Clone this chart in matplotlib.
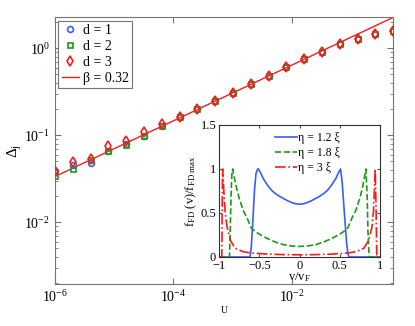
import numpy as np
import matplotlib
matplotlib.use("Agg")
import matplotlib.pyplot as plt

plt.rcParams['font.family'] = ['Liberation Serif', 'DejaVu Serif']
plt.rcParams['mathtext.fontset'] = 'custom'
plt.rcParams['mathtext.rm'] = 'Liberation Serif'
plt.rcParams['mathtext.it'] = 'Liberation Serif:italic'
plt.rcParams['mathtext.bf'] = 'Liberation Serif:bold'

# ---- main data ----
U = [1e-6 * 2 ** k for k in range(20)]
delta_d1 = [0.0384, 0.045, 0.0486, 0.0651, 0.0798, 0.0969, 0.1286, 0.162, 0.202, 0.251,
            0.310, 0.391, 0.483, 0.602, 0.751, 0.912, 1.118, 1.286, 1.468, 1.589]
delta_d2 = [0.0336, 0.041, 0.0516, 0.0664, 0.0777, 0.0987, 0.1286, 0.162, 0.202, 0.251,
            0.310, 0.391, 0.483, 0.602, 0.751, 0.912, 1.118, 1.286, 1.468, 1.589]
delta_d3 = [0.0389, 0.049, 0.0532, 0.0743, 0.0853, 0.109, 0.134, 0.162, 0.202, 0.251,
            0.310, 0.391, 0.483, 0.602, 0.751, 0.912, 1.118, 1.286, 1.468, 1.589]
beta = 0.32
fit_amp = 2.79
fit_U = [U[0], U[-1]]
fit_delta = [fit_amp * u ** beta for u in fit_U]

# ---- inset data ----
v_blue = [-1.0, -0.615, -0.6, -0.58, -0.56, -0.54, -0.52, -0.51, -0.48, -0.45, -0.4, -0.35,
          -0.3, -0.25, -0.2, -0.15, -0.1, -0.05, 0.0,
          0.05, 0.1, 0.15, 0.2, 0.25, 0.3, 0.35, 0.4, 0.45, 0.48, 0.51, 0.53, 0.555, 0.585,
          0.6, 0.615, 1.0]
f_blue = [0.0, 0.0, 0.1, 0.4, 0.75, 0.95, 1.0, 1.0, 0.95, 0.89, 0.82, 0.76,
          0.72, 0.69, 0.665, 0.64, 0.62, 0.605, 0.6,
          0.605, 0.62, 0.64, 0.665, 0.69, 0.72, 0.76, 0.82, 0.89, 0.95, 1.0, 0.85, 0.53, 0.16,
          0.04, 0.0, 0.0]
v_green = [-1.0, -0.87, -0.86, -0.85, -0.84, -0.83, -0.81, -0.78, -0.75, -0.7, -0.65, -0.6,
           -0.55, -0.5, -0.4, -0.3, -0.2, -0.1, 0.0,
           0.1, 0.2, 0.3, 0.4, 0.5, 0.55, 0.6, 0.65, 0.7, 0.75, 0.78, 0.81, 0.825, 0.84,
           0.85, 0.865, 1.0]
f_green = [0.0, 0.0, 0.3, 0.7, 0.95, 1.0, 0.9, 0.78, 0.67, 0.53, 0.44, 0.33,
           0.29, 0.26, 0.21, 0.17, 0.14, 0.125, 0.12,
           0.125, 0.14, 0.17, 0.21, 0.26, 0.29, 0.33, 0.44, 0.53, 0.67, 0.78, 0.92, 1.0, 0.7,
           0.3, 0.0, 0.0]
v_red = [-1.0, -0.965, -0.96, -0.955, -0.94, -0.925, -0.9, -0.86, -0.8, -0.7, -0.6, -0.4,
         -0.2, 0.0, 0.2, 0.4, 0.6, 0.7, 0.8, 0.86, 0.9, 0.92, 0.94, 0.95, 0.96, 1.0]
f_red = [0.0, 0.0, 0.6, 1.0, 0.75, 0.53, 0.34, 0.19, 0.1, 0.06, 0.045, 0.033,
         0.027, 0.025, 0.027, 0.033, 0.045, 0.06, 0.1, 0.19, 0.34, 0.53, 1.0, 0.6, 0.0, 0.0]

c_blue = '#3a5cff'
c_green = '#1a9a1a'
c_red = '#ff1a1a'
spine_c = '0.45'

fig = plt.figure(figsize=(4.15, 3.26), dpi=100)
ax = fig.add_axes([0.1325, 0.1288, 0.8152, 0.8181])
ax.set_xscale('log')
ax.set_yscale('log')

ax.plot(U, delta_d1, 'o', mfc='none', mec=c_blue, mew=1.2, ms=4.2, label='d = 1', zorder=3)
ax.plot(U, delta_d2, 's', mfc='none', mec=c_green, mew=1.2, ms=3.6, label='d = 2', zorder=3)
ax.plot(U, delta_d3, 'd', mfc='none', mec=c_red, mew=1.2, ms=4.8, label='d = 3', zorder=4)
ax.plot(fit_U, fit_delta, '-', color=c_red, lw=1.0, label='\u03b2 = 0.32', zorder=2)

ax.set_xlim(U[0], U[-1])
ax.set_ylim(1.95e-3, 2.27)
ax.set_xticks([1e-6, 1e-4, 1e-2])
ax.xaxis.set_minor_locator(matplotlib.ticker.NullLocator())
ax.tick_params(which='both', direction='in', top=True, right=True, colors=spine_c,
               labelcolor='black', labelsize=10)
ax.tick_params(which='major', length=4)
ax.tick_params(which='minor', length=2)
for s in ax.spines.values():
    s.set_color(spine_c)
ax.set_xlabel('U', fontsize=7, labelpad=1)
ax.set_ylabel('\u0394$_{\\rm j}$', fontsize=11, labelpad=0)

leg = ax.legend(loc='upper left', fontsize=10, fancybox=False, edgecolor=spine_c,
                handlelength=1.2, handletextpad=0.3, borderpad=0.25, labelspacing=0.2,
                borderaxespad=0.25, framealpha=1)
leg.get_frame().set_linewidth(0.8)

# ---- inset ----
ins = fig.add_axes([0.5277, 0.2117, 0.388, 0.4049])
ins.plot(v_blue, f_blue, '-', color=c_blue, lw=1.2, label='\u03b7 = 1.2 \u03be')
ins.plot(v_green, f_green, '--', color=c_green, lw=1.2, label='\u03b7 = 1.8 \u03be')
ins.plot(v_red, f_red, '-.', color=c_red, lw=1.2, label='\u03b7 = 3 \u03be')
ins.set_xlim(-1, 1)
ins.set_ylim(0, 1.5)
ins.set_xticks([-1, -0.5, 0, 0.5, 1])
ins.set_xticklabels(['\u22121', '\u22120.5', '0', '0.5', '1'])
ins.set_yticks([0, 0.5, 1, 1.5])
ins.set_yticklabels(['0', '0.5', '1', '1.5'])
ins.tick_params(direction='in', top=True, right=True, length=2.5, labelsize=9, pad=2,
                colors='0.3', labelcolor='black')
for s in ins.spines.values():
    s.set_color('0.2')
ins.set_xlabel(r'v/v$_{\rm F}$', fontsize=9, labelpad=-1)
ins.set_ylabel(r'f$_{\rm FD}$ (v)/f$_{\rm FD\ max}$', fontsize=9, labelpad=1)
ins.legend(loc='upper center', fontsize=8.5, frameon=False, handlelength=1.8,
           handletextpad=0.1, labelspacing=0.25, borderaxespad=0.2,
           bbox_to_anchor=(0.55, 1.0))

fig.savefig('out.png', dpi=100)
